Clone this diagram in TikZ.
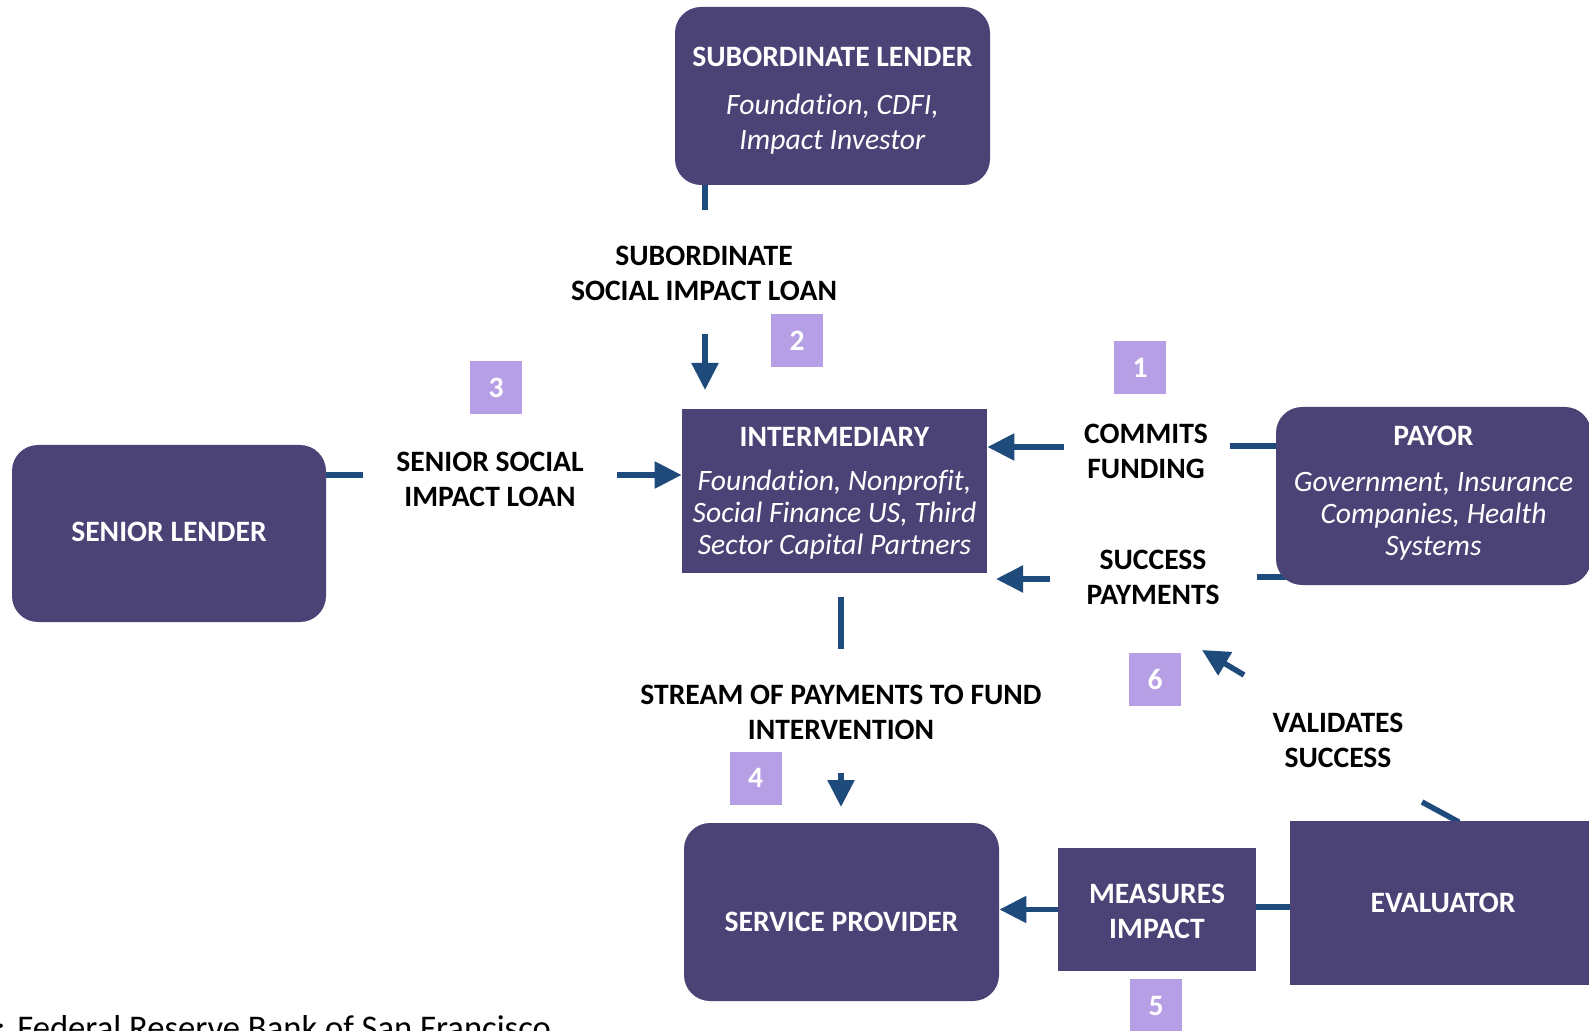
\documentclass[tikz,border=0pt]{standalone}
\usepackage{fontspec}
\setmainfont{Carlito}[Ligatures=NoCommon]
\usetikzlibrary{arrows.meta,backgrounds}
\definecolor{boxfill}{HTML}{4B4376}
\definecolor{flow}{HTML}{1F4A7C}
\definecolor{badge}{HTML}{B69FE5}
\begin{document}
\begin{tikzpicture}[x=0.5pt,y=-0.5pt,
  party/.style={fill=boxfill, text=white, align=center, inner sep=0pt,
    font=\fontsize{14.8}{16}\selectfont},
  roundparty/.style={party, rounded corners=13pt},
  words/.style={text=white, align=center, inner sep=0pt, font=\fontsize{14.8}{16}\selectfont},
  lbl/.style={align=center, inner sep=0pt, font=\bfseries\fontsize{14.8}{17.5}\selectfont},
  badgebox/.style={fill=badge, text=white, inner sep=0pt,
    minimum width=26pt, minimum height=26.5pt, font=\bfseries\fontsize{14.8}{16}\selectfont},
  arr/.style={draw=flow, line width=2.75pt, -{Triangle[length=13.5pt,width=13pt]}},
  stub/.style={draw=flow, line width=2.75pt}]
\useasboundingbox (0,0) rectangle (1589,1031);

% parties
\node[roundparty, minimum width=157.5pt, minimum height=89pt] (sub) at (832.5,96) {};
\node[words, font=\fontsize{14.8}{17.5}\selectfont] at ([yshift=-2.5pt]sub.center)
  {\textbf{SUBORDINATE LENDER}\\[6.5pt]\textit{Foundation, CDFI,}\\\textit{Impact Investor}};
\node[party, minimum width=152.5pt, minimum height=82pt] (inter) at (834.5,491) {};
\node[words] at ([yshift=-1pt]inter.center)
  {\textbf{INTERMEDIARY}\\[6pt]\textit{Foundation, Nonprofit,}\\\textit{Social Finance US, Third}\\\textit{Sector Capital Partners}};
\node[roundparty, minimum width=157pt, minimum height=88.5pt] (senior) at (169,533.5) {};
\node[words, font=\bfseries\fontsize{14.8}{16}\selectfont] at ([yshift=1pt]senior.center) {SENIOR LENDER};
\node[roundparty, minimum width=157.5pt, minimum height=89pt] (payor) at (1433.5,496) {};
\node[words] at ([yshift=1.5pt]payor.center)
  {\textbf{PAYOR}\\[7pt]\textit{Government, Insurance}\\\textit{Companies, Health}\\\textit{Systems}};
\node[roundparty, minimum width=157.5pt, minimum height=89pt] (serv) at (841.5,912) {};
\node[words, font=\bfseries\fontsize{14.8}{16}\selectfont] at ([yshift=-5pt]serv.center) {SERVICE PROVIDER};
\node[party, minimum width=99pt, minimum height=61.5pt] (meas) at (1157,909.5) {};
\node[words, font=\bfseries\fontsize{14.8}{17.5}\selectfont] at ([yshift=-1pt]meas.center) {MEASURES\\IMPACT};
\node[party, minimum width=153pt, minimum height=82pt,
  font=\bfseries\fontsize{14.8}{17.5}\selectfont] (eval) at (1443,903) {EVALUATOR};

% flow labels
\node[lbl] (lsub) at (704,273.5) {SUBORDINATE\\SOCIAL IMPACT LOAN};
\node[lbl] (lsen) at (490,479.5) {SENIOR SOCIAL\\IMPACT LOAN};
\node[lbl] (lcom) at (1146,451.5) {COMMITS\\FUNDING};
\node[lbl] (lsuc) at (1153,577) {SUCCESS\\PAYMENTS};
\node[lbl] (lstr) at (841,712.5) {STREAM OF PAYMENTS TO FUND\\INTERVENTION};
\node[lbl] (lval) at (1338,740.5) {VALIDATES\\SUCCESS};

% step numbers
\node[badgebox] (b1) at (1140,367.5) {1};
\node[badgebox] (b2) at (797,340.5) {2};
\node[badgebox] (b3) at (496,388) {3};
\node[badgebox] (b4) at (755.5,778) {4};
\node[badgebox] (b5) at (1156,1005.5) {5};
\node[badgebox] (b6) at (1155,679.5) {6};

% free ends of the broken connectors
\coordinate (subEnd) at (705,210);
\coordinate (subArrS) at (705,334);
\coordinate (subArrE) at (705,390);
\coordinate (senEnd) at (363,475);
\coordinate (senArrS) at (617,475);
\coordinate (comArrS) at (1064,447);
\coordinate (payStub1) at (1230,446);
\coordinate (sucArrS) at (1050,579);
\coordinate (sucArrE) at (996,579);
\coordinate (payStub2) at (1257,577);
\coordinate (strS) at (841,597);
\coordinate (strE) at (841,649);
\coordinate (srvArrS) at (841,773);
\coordinate (srvArrE) at (841,807);
\coordinate (evTop) at (1457,821);
\coordinate (evEnd) at (1422,802);
\coordinate (valS) at (1244,675);
\coordinate (valE) at (1202,650);

\begin{scope}[on background layer]
  \fill[white] (0,0) rectangle (1589,1031);
  \draw[stub] (subEnd |- sub.center) -- (subEnd);
  \draw[stub] (senior.center |- senEnd) -- (senEnd);
  \draw[stub] (payor.center |- payStub1) -- (payStub1);
  \draw[stub] (payor.center |- payStub2) -- (payStub2);
  \draw[stub] (meas.center |- 0,907) -- (eval.center |- 0,907);
  \draw[stub] (eval.center) -- (evTop) -- (evEnd);
\end{scope}

\draw[arr] (subArrS) -- (subArrE);
\draw[arr] (senArrS) -- (inter.west |- senArrS);
\draw[arr] (comArrS) -- (inter.east |- comArrS);
\draw[arr] (sucArrS) -- (sucArrE);
\draw[stub] (strS) -- (strE);
\draw[arr] (srvArrS) -- (srvArrE);
\draw[arr] (meas.west) -- (serv.east |- meas.west);
\draw[arr] (valS) -- (valE);

% source line, cut by the lower edge
\node[anchor=base west, inner sep=0pt, font=\fontsize{17.3}{20}\selectfont] (src) at (17,1039)
  {Federal Reserve Bank of San Francisco};
\node[anchor=base east, inner sep=0pt, font=\fontsize{17.3}{20}\selectfont] (srccolon)
  at ([xshift=-5.5pt]src.base west) {:};
\end{tikzpicture}
\end{document}
